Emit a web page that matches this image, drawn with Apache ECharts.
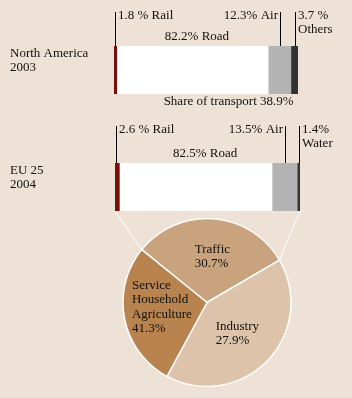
<!DOCTYPE html>
<html>
<head>
<meta charset="utf-8">
<script src="https://cdn.jsdelivr.net/npm/echarts@6/dist/echarts.min.js"></script>
<style>
  html, body { margin: 0; padding: 0; background: #eee1d5; }
  #chart { width: 352px; height: 398px; }
</style>
</head>
<body>
<div id="chart"></div>
<script>
// transport modal split (% of passenger-km)
const naModes = ['Rail', 'Road', 'Air', 'Others'];
const naShares = [1.8, 82.2, 12.3, 3.7];
const euModes = ['Rail', 'Road', 'Air', 'Water'];
const euShares = [2.6, 82.5, 13.5, 1.4];
const naShareOfTransport = 38.9;

// energy use by sector
const sectors = ['Traffic', 'Industry', 'Service\nHousehold\nAgriculture'];
const sectorLabels = [30.7, 27.9, 41.3];   // as printed
const sectorSlices = [30.7, 41.3, 27.9];   // slice sizes as drawn

const modeColors = ['#7a0e0a', '#ffffff', '#b3b3b3', '#333333'];
const sectorColors = ['#c9a37e', '#dcc3a9', '#b8834f'];

const FONT = 'Liberation Serif, Times New Roman, serif';
const grids = [
  { left: 114, top: 46, width: 184, height: 48 },
  { left: 115, top: 163, width: 185, height: 48 }
];
const PIE_C = [207, 302.5], PIE_R = 84, PIE_START = 141;

const chart = echarts.init(document.getElementById('chart'));

function barSeries(modes, shares, idx) {
  return modes.map((m, i) => ({
    type: 'bar',
    name: m,
    stack: 's' + idx,
    xAxisIndex: idx,
    yAxisIndex: idx,
    barWidth: '100%',
    silent: true,
    itemStyle: { color: modeColors[i] },
    data: [shares[i]]
  }));
}

chart.setOption({
  animation: false,
  backgroundColor: '#eee1d5',
  grid: grids,
  xAxis: grids.map((g, i) => ({ gridIndex: i, type: 'value', min: 0, max: 100, show: false })),
  yAxis: grids.map((g, i) => ({ gridIndex: i, type: 'category', data: ['x'], show: false })),
  series: [
    ...barSeries(naModes, naShares, 0),
    ...barSeries(euModes, euShares, 1),
    {
      type: 'pie',
      center: PIE_C,
      radius: PIE_R,
      startAngle: PIE_START,
      silent: true,
      z: 3,
      itemStyle: { borderColor: '#ffffff', borderWidth: 1.5 },
      label: {
        position: 'inside',
        color: '#111',
        fontFamily: FONT,
        fontSize: 13,
        lineHeight: 14.5,
        formatter: p => sectors[p.dataIndex] + '\n' + sectorLabels[p.dataIndex] + '%'
      },
      labelLine: { show: false },
      labelLayout: function (p) {
        const adj = [[2, -1], [-2, 0], [-1, -4]];
        const r = p.labelRect;
        return { x: r.x + adj[p.dataIndex][0], y: r.y + adj[p.dataIndex][1], align: 'left', verticalAlign: 'top' };
      },
      data: sectorSlices.map((v, i) => ({ value: v, name: sectors[i], itemStyle: { color: sectorColors[i] } }))
    }
  ]
});

// leader lines and labels, positioned from the axes
function txt(x, y, s, align) {
  return {
    type: 'text', x: x, y: y, silent: true, z: 10,
    style: { text: s, fill: '#111', font: '13px ' + FONT, textAlign: align || 'left', textVerticalAlign: 'middle' }
  };
}
function vline(x, y1, y2, color) {
  x = Math.round(x) + 0.5;
  return { type: 'line', silent: true, z: 10, shape: { x1: x, y1: y1, x2: x, y2: y2 }, style: { stroke: color || '#000', lineWidth: 1 } };
}

const els = [];
const regions = [
  { shares: naShares, modes: naModes, lineTop: 12, roadDx: 4, title: ['North America', '2003'] },
  { shares: euShares, modes: euModes, lineTop: 126, roadDx: 9, title: ['EU 25', '2004'] }
];
regions.forEach((reg, gi) => {
  const g = grids[gi];
  const mids = [];
  let cum = 0;
  reg.shares.forEach(v => {
    const a = chart.convertToPixel({ gridIndex: gi }, [cum, 0])[0];
    const b = chart.convertToPixel({ gridIndex: gi }, [cum + v, 0])[0];
    mids.push({ a: a, b: b, m: (a + b) / 2 });
    cum += v;
  });
  const ty = reg.lineTop + 4;
  // rail
  els.push(vline(mids[0].m - 1, reg.lineTop, g.top));
  els.push(txt(Math.round(mids[0].m) + 2, ty, reg.shares[0] + ' % ' + reg.modes[0]));
  // air
  els.push(vline(mids[2].m, reg.lineTop, g.top));
  els.push(txt(Math.round(mids[2].m) - 2, ty, reg.shares[2] + '% ' + reg.modes[2], 'right'));
  // others / water
  els.push(vline(mids[3].m, reg.lineTop, g.top));
  els.push(txt(Math.round(mids[3].m) + 3, ty, reg.shares[3] + (gi === 0 ? ' %' : '%')));
  els.push(txt(Math.round(mids[3].m) + 3, ty + 13.5, reg.modes[3]));
  // road
  els.push(txt(mids[1].m + reg.roadDx, g.top - 9, reg.shares[1] + '% ' + reg.modes[1], 'center'));
  // region title
  els.push(txt(10, g.top + 8, reg.title[0]));
  els.push(txt(10, g.top + 22, reg.title[1]));
  reg.mids = mids;
});
els.push(txt(regions[0].mids[3].m - 1, grids[0].top + grids[0].height + 8,
  'Share of transport ' + naShareOfTransport + '%', 'right'));

// connectors from the EU bar to the traffic slice
const sum = sectorSlices.reduce((s, v) => s + v, 0);
const a0 = PIE_START * Math.PI / 180;
const a1 = (PIE_START - 360 * sectorSlices[0] / sum) * Math.PI / 180;
const g2 = grids[1];
const pt = a => [PIE_C[0] + PIE_R * Math.cos(a), PIE_C[1] - PIE_R * Math.sin(a)];
const p0 = pt(a0), p1 = pt(a1);
els.push({ type: 'line', silent: true, z: 1, shape: { x1: g2.left, y1: g2.top + g2.height, x2: p0[0], y2: p0[1] }, style: { stroke: '#fff', lineWidth: 1 } });
els.push({ type: 'line', silent: true, z: 1, shape: { x1: g2.left + g2.width, y1: g2.top + g2.height, x2: p1[0], y2: p1[1] }, style: { stroke: '#fff', lineWidth: 1 } });

chart.setOption({ graphic: { elements: els } });
</script>
</body>
</html>
